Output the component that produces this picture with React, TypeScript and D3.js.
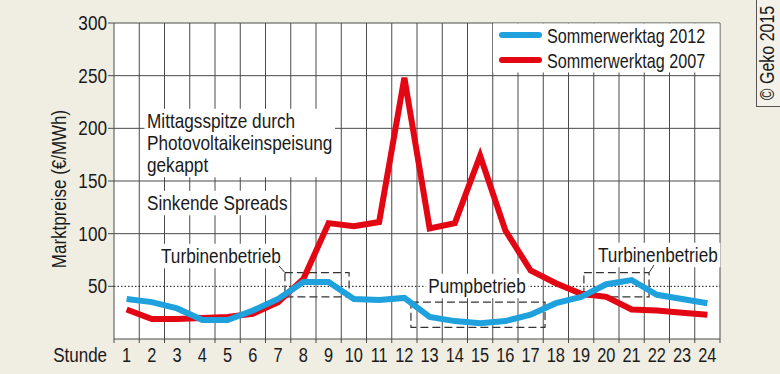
import React, { useEffect, useRef } from 'react';
import * as d3 from 'd3';

// data ------------------------------------------------------------
const hours = d3.range(1, 25).map(String);
const werktag2012 = [38, 35, 29, 18, 18, 27, 38, 54, 54, 38, 37, 39, 21, 17, 15, 17, 23, 34, 40, 52, 56, 42, 38, 34];
const werktag2007 = [28, 19, 19, 20, 21, 24, 35, 57, 110, 107, 111, 248, 105, 110, 174, 103, 65, 53, 43, 40, 28, 27, 25, 23];
const yTicks = [50, 100, 150, 200, 250, 300];
const seriesNames = ['Sommerwerktag 2012', 'Sommerwerktag 2007'];
const seriesColors = ['#1ea1dc', '#e30613'];
// dashed boxes in hour / price units
const boxes = [
  { h0: 7.27, h1: 9.81, lo: 40, hi: 63 },
  { h0: 12.26, h1: 17.57, lo: 11, hi: 35 },
  { h0: 19.11, h1: 21.69, lo: 40, hi: 63 },
];

const App = () => {
  const ref = useRef<SVGSVGElement>(null);
  const [width, height] = [780, 374];
  const margin = { left: 114, right: 60, top: 23, bottom: 35 };
  const font = '"Liberation Sans", Arial, sans-serif';
  const ink = '#1a1a1a';

  useEffect(() => {
    const svg = d3.select(ref.current);
    svg.selectAll('*').remove();

    const x0 = margin.left, x1 = width - margin.right;
    const y0 = height - margin.bottom, y1 = margin.top;

    const xScale = d3.scaleBand().domain(hours).range([x0, x1]);
    const hourScale = d3.scaleLinear().domain([0.5, 24.5]).range([x0, x1]);
    const yScale = d3.scaleLinear().domain([0, 300]).range([y0, y1]);
    const gridColor = '#4a4a4a';

    // condensed text: the original uses a narrow grotesque, so squeeze Liberation Sans
    const txt = (parent: any, x: number, y: number, s: string, anchor = 'start', sx = 0.86, size = 19.5, rot = 0) =>
      parent.append('text')
        .attr('transform', `translate(${x},${y}) rotate(${rot}) scale(${sx},1)`)
        .attr('text-anchor', anchor).attr('font-family', font).attr('font-size', size).attr('fill', ink)
        .text(s);

    // background
    svg.append('rect').attr('width', width).attr('height', height).attr('fill', '#f0ede2');
    svg.append('rect')
      .attr('x', x0).attr('y', y1).attr('width', x1 - x0).attr('height', y0 - y1)
      .attr('fill', '#fff');

    // grid
    const grid = svg.append('g');
    const bounds = hours.map((h) => xScale(h)!).concat([x1]).slice(1);
    grid.selectAll('.vline').data(bounds).join('line')
      .attr('x1', (d) => d).attr('x2', (d) => d)
      .attr('y1', y1).attr('y2', y0 + 4)
      .attr('stroke', gridColor).attr('stroke-width', 1);
    grid.append('line').attr('x1', x0).attr('x2', x0).attr('y1', y0).attr('y2', y0 + 4)
      .attr('stroke', gridColor);
    grid.selectAll('.hline').data(yTicks.filter((t) => t !== 50)).join('line')
      .attr('x1', x0 - 6).attr('x2', x1)
      .attr('y1', (d) => yScale(d)).attr('y2', (d) => yScale(d))
      .attr('stroke', gridColor).attr('stroke-width', 1);
    grid.append('line').attr('x1', x0 - 6).attr('x2', x0)
      .attr('y1', yScale(50)).attr('y2', yScale(50)).attr('stroke', gridColor);

    // white label backgrounds that hide grid lines
    const label = (lines: string[], x: number, y: number, lh = 21, anchor = 'start', pad = 3) => {
      const g = svg.append('g').attr('transform', `translate(${x},${y}) scale(0.86,1)`);
      const t = g.append('text')
        .attr('font-family', font).attr('font-size', 20).attr('fill', ink)
        .attr('text-anchor', anchor);
      lines.forEach((s, i) => t.append('tspan').attr('x', 0).attr('y', i * lh).text(s));
      const bb = (t.node() as SVGTextElement).getBBox();
      g.insert('rect', 'text')
        .attr('x', bb.x - pad).attr('y', bb.y - 1).attr('width', bb.width + 2 * pad).attr('height', bb.height + 2)
        .attr('fill', '#fff');
      return g;
    };

    // legend box
    svg.append('rect').attr('x', 493).attr('y', y1 + 0.5).attr('width', x1 - 493 - 0.5).attr('height', 49)
      .attr('fill', '#fff');

    // dotted 50 line
    svg.append('line')
      .attr('x1', x0).attr('x2', x1).attr('y1', yScale(50)).attr('y2', yScale(50))
      .attr('stroke', '#111').attr('stroke-width', 1).attr('stroke-dasharray', '1.5,2');

    // axes
    svg.append('line').attr('x1', x0).attr('x2', x0).attr('y1', y1).attr('y2', y0).attr('stroke', gridColor);
    svg.append('line').attr('x1', x0).attr('x2', x1).attr('y1', y0).attr('y2', y0).attr('stroke', gridColor);

    const yl = svg.append('g');
    yTicks.forEach((d) => txt(yl, x0 - 7, yScale(d) + 7, String(d), 'end', 0.88));
    const xl = svg.append('g');
    hours.forEach((d) => txt(xl, xScale(d)! + xScale.bandwidth() / 2, y0 + 23, d, 'middle', 0.84));
    txt(svg, x0 - 7, y0 + 23, 'Stunde', 'end', 0.87);
    txt(svg, 66, (y0 + y1) / 2 + 8, 'Marktpreise (€/MWh)', 'middle', 0.87, 19.5, -90);

    // annotations
    label(['Mittagsspitze durch', 'Photovoltaikeinspeisung', 'gekappt'], 147, 128, 22);
    label(['Sinkende Spreads'], 147, 210);
    label(['Turbinenbetrieb'], 161, 263);
    label(['Pumpbetrieb'], 477, 293, 21, 'middle');
    label(['Turbinenbetrieb'], 598, 262);

    svg.append('g').selectAll('rect').data(boxes).join('rect')
      .attr('x', (d) => hourScale(d.h0)).attr('y', (d) => yScale(d.hi))
      .attr('width', (d) => hourScale(d.h1) - hourScale(d.h0)).attr('height', (d) => yScale(d.lo) - yScale(d.hi))
      .attr('fill', 'none').attr('stroke', '#333').attr('stroke-width', 1.2).attr('stroke-dasharray', '8,4');
    svg.append('line')
      .attr('x1', 279).attr('y1', 266).attr('x2', hourScale(boxes[0].h0)).attr('y2', yScale(boxes[0].hi))
      .attr('stroke', '#333').attr('stroke-width', 1);
    svg.append('line')
      .attr('x1', hourScale(boxes[2].h1)).attr('y1', yScale(boxes[2].hi)).attr('x2', 654).attr('y2', 265)
      .attr('stroke', '#333').attr('stroke-width', 1);

    // lines
    const line = d3.line<number>()
      .x((_, i) => xScale(hours[i])! + xScale.bandwidth() / 2)
      .y((d) => yScale(d));
    [werktag2007, werktag2012].forEach((data, i) => {
      svg.append('path').datum(data)
        .attr('d', line)
        .attr('fill', 'none')
        .attr('stroke', seriesColors[1 - i])
        .attr('stroke-width', 6)
        .attr('stroke-linejoin', 'miter')
        .attr('stroke-miterlimit', 4);
    });

    // legend
    const leg = svg.append('g');
    seriesNames.forEach((name, i) => {
      const ly = 35 + i * 25;
      leg.append('line').attr('x1', 502).attr('x2', 539).attr('y1', ly).attr('y2', ly)
        .attr('stroke', seriesColors[i]).attr('stroke-width', 6).attr('stroke-linecap', 'round');
      txt(leg, 547, ly + 8, name, 'start', 0.83);
    });

    // copyright
    svg.append('rect').attr('x', 756.5).attr('y', -1).attr('width', 30).attr('height', 107.5)
      .attr('fill', '#f3f1e9').attr('stroke', '#555').attr('stroke-width', 1);
    txt(svg, 774, 53, '© Geko 2015', 'middle', 0.82, 19.5, -90);
  }, []);

  return (
    <div style={{ position: 'absolute', left: 0, top: 0 }}>
      <svg ref={ref} width={width} height={height} style={{ display: 'block' }}></svg>
    </div>
  );
};

export default App;
